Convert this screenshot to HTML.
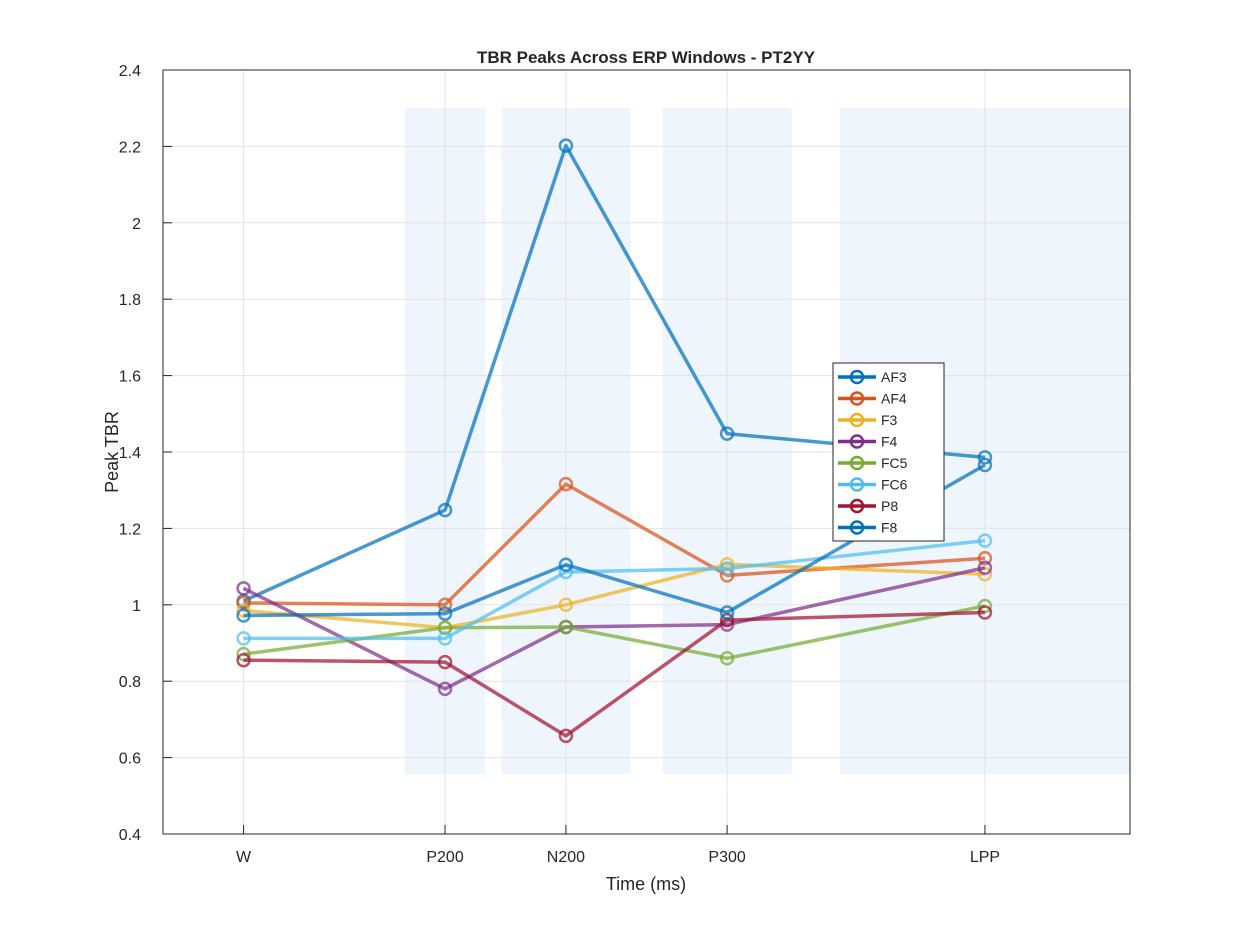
<!DOCTYPE html>
<html><head><meta charset="utf-8"><style>
body{margin:0;background:#fff;}
svg text{font-family:"Liberation Sans",Arial,sans-serif;fill:#262626;}
</style></head><body>
<svg id="chart" width="1250" height="938" xmlns="http://www.w3.org/2000/svg">
<rect width="1250" height="938" fill="#fff"/>
<g id="shade"></g><g id="grid"></g><g id="axes"></g><g id="series"></g><g id="legend"></g>
</svg>
<script>
const categories = ["W","P200","N200","P300","LPP"];
const xTimes = [0,250,400,600,920];
const windows = [[200,300],[320,480],[520,680],[740,1100]];
const seriesNames = ["AF3","AF4","F3","F4","FC5","FC6","P8","F8"];
const AF3 = [1.01,1.248,2.202,1.448,1.386];
const AF4 = [1.005,1.0,1.316,1.077,1.122];
const F3 = [0.985,0.94,1.0,1.106,1.08];
const F4 = [1.043,0.78,0.942,0.948,1.097];
const FC5 = [0.871,0.94,0.942,0.86,0.997];
const FC6 = [0.912,0.912,1.086,1.095,1.168];
const P8 = [0.855,0.85,0.657,0.96,0.98];
const F8 = [0.972,0.977,1.105,0.98,1.366];
const yTicks = [0.4,0.6,0.8,1,1.2,1.4,1.6,1.8,2,2.2,2.4];
const colors = ["#0072BD","#D95319","#EDB120","#7E2F8E","#77AC30","#4DBEEE","#A2142F","#0072BD"];
const allSeries=[AF3,AF4,F3,F4,FC5,FC6,P8,F8];
const L=163,R=1130,T=70,B=834;
const xs=t=>L+(t+100)/1200*(R-L);
const ys=v=>B-(v-0.4)/2.0*(B-T);
const NS="http://www.w3.org/2000/svg";
function mk(tag,attrs,parent,txt){const e=document.createElementNS(NS,tag);for(const k in attrs)e.setAttribute(k,attrs[k]);if(txt!==undefined)e.textContent=txt;parent.appendChild(e);return e;}
const shade=document.getElementById('shade'),grid=document.getElementById('grid'),axes=document.getElementById('axes'),ser=document.getElementById('series'),leg=document.getElementById('legend');
windows.forEach((w,i)=>{const r=mk('rect',{x:xs(w[0]),y:ys(2.3),width:xs(w[1])-xs(w[0]),height:ys(0.557)-ys(2.3),fill:'#eef5fd'},shade);

});
yTicks.forEach(v=>{mk('line',{x1:L,x2:R,y1:ys(v),y2:ys(v),stroke:'#e3e3e3','stroke-width':1},grid);
const t=mk('text',{x:L-22,y:ys(v)+6,'text-anchor':'end','font-size':16},axes,String(v));


mk('line',{x1:L,x2:L+9,y1:ys(v),y2:ys(v),stroke:'#262626'},axes);});
categories.forEach((c,i)=>{const x=xs(xTimes[i]);mk('line',{x1:x,x2:x,y1:T,y2:B,stroke:'#e3e3e3'},grid);
mk('line',{x1:x,x2:x,y1:B,y2:B-9,stroke:'#262626'},axes);
const t=mk('text',{x:x,y:B+28,'text-anchor':'middle','font-size':16},axes,c);

});
mk('rect',{x:L,y:T,width:R-L,height:B-T,fill:'none',stroke:'#262626','stroke-width':1},axes);
let tt=mk('text',{x:646,y:63,'text-anchor':'middle','font-size':17,'font-weight':'bold'},axes,'TBR Peaks Across ERP Windows - PT2YY');

tt=mk('text',{x:646,y:890,'text-anchor':'middle','font-size':18},axes,'Time (ms)');

tt=mk('text',{x:118,y:452,'text-anchor':'middle','font-size':18,transform:'rotate(-90 118 452)'},axes,'Peak TBR');

allSeries.forEach((d,s)=>{const g=mk('g',{},ser);


const pts=d.map((v,i)=>xs(xTimes[i])+','+ys(v)).join(' ');
mk('polyline',{points:pts,fill:'none',stroke:colors[s],'stroke-width':3.5,'stroke-opacity':0.72,'stroke-linejoin':'round'},g);
d.forEach((v,i)=>{const c=mk('circle',{cx:xs(xTimes[i]),cy:ys(v),r:6,fill:'none',stroke:colors[s],'stroke-width':2.5,'stroke-opacity':0.72},g);

});});
const lb=mk('rect',{x:833,y:363,width:111,height:178,fill:'#fff',stroke:'#262626','stroke-width':1},leg);

seriesNames.forEach((n,i)=>{const y=377+i*21.5;const g=mk('g',{},leg);


mk('line',{x1:838,x2:876,y1:y,y2:y,stroke:colors[i],'stroke-width':3.5},g);
mk('circle',{cx:857,cy:y,r:6,fill:'none',stroke:colors[i],'stroke-width':2.5},g);
mk('text',{x:881,y:y+5,'font-size':14,fill:'#000'},g,n);});
</script>
</body></html>
